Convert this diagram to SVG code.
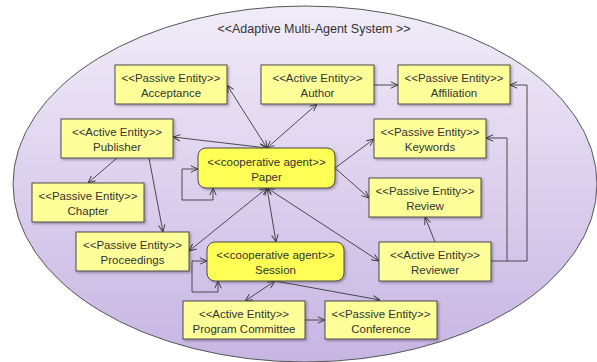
<svg xmlns="http://www.w3.org/2000/svg" width="597" height="362" viewBox="0 0 597 362">
<defs>
<linearGradient id="bg" x1="0" y1="0" x2="0" y2="1">
<stop offset="0" stop-color="#f1ecf8"/>
<stop offset="1" stop-color="#c7b5e3"/>
</linearGradient>
<filter id="sh" x="-10%" y="-10%" width="130%" height="140%">
<feDropShadow dx="1.5" dy="1.5" stdDeviation="1" flood-color="#000" flood-opacity="0.3"/>
</filter>
<marker id="ar" viewBox="0 0 10 10" refX="10" refY="5" markerWidth="8" markerHeight="8" markerUnits="userSpaceOnUse" orient="auto-start-reverse">
<path d="M1,1 L10,5 L1,9" fill="none" stroke="#3a3a3a" stroke-width="1.2"/>
</marker>
<style>
.box{fill:#ffff99;stroke:#4a4a4a;stroke-width:1;filter:url(#sh)}
.agent{fill:#ffff55;stroke:#4a4a4a;stroke-width:1;filter:url(#sh)}
text{font-family:"Liberation Sans",Arial,sans-serif;font-size:11.5px;fill:#333;text-anchor:middle}
.c{fill:none;stroke:#3a3a3a;stroke-width:0.9;marker-end:url(#ar)}
.b{marker-start:url(#ar)}
</style>
</defs>
<ellipse cx="305" cy="184" rx="292" ry="178" fill="url(#bg)" stroke="#555" stroke-width="1"/>
<text x="314" y="33" style="font-size:12.5px">&lt;&lt;Adaptive Multi-Agent System &gt;&gt;</text>

<g id="connectors">
<path class="c b" d="M267,148 L227,85"/>
<path class="c b" d="M267,148 L317,104"/>
<path class="c b" d="M267,148 L173,137"/>
<path class="c" d="M374,85 L398,85"/>
<path class="c" d="M335,168 L374,139"/>
<path class="c" d="M335,168 L369,198"/>
<path class="c b" d="M213,188 L213,200 L182,200 L182,169 L198,169"/>
<path class="c b" d="M267,188 L189,251"/>
<path class="c b" d="M267,188 L276,242"/>
<path class="c b" d="M267,188 L379,261"/>
<path class="c" d="M117,158 L88,183"/>
<path class="c" d="M149,158 L163,232"/>
<path class="c b" d="M218,281 L218,292 L192,292 L192,261 L207,261"/>
<path class="c" d="M435,242 L425,217"/>
<path class="c" d="M491,261 L507,261 L507,138 L486,138"/>
<path class="c" d="M507,261 L527,261 L527,85 L510,85"/>
<path class="c b" d="M275,281 L245,301"/>
<path class="c" d="M275,281 L380,300"/>
<path class="c" d="M305,320 L325,320"/>
</g>

<g id="acceptance"><rect class="box" x="115" y="65" width="112" height="39"/><text x="171" y="82">&lt;&lt;Passive Entity&gt;&gt;</text><text x="171" y="97">Acceptance</text></g>
<g id="author"><rect class="box" x="261" y="65" width="113" height="39"/><text x="317.5" y="82">&lt;&lt;Active Entity&gt;&gt;</text><text x="317.5" y="97">Author</text></g>
<g id="affiliation"><rect class="box" x="398" y="65" width="112" height="39"/><text x="454" y="82">&lt;&lt;Passive Entity&gt;&gt;</text><text x="454" y="97">Affiliation</text></g>
<g id="publisher"><rect class="box" x="61" y="119" width="112" height="39"/><text x="117" y="136">&lt;&lt;Active Entity&gt;&gt;</text><text x="117" y="151">Publisher</text></g>
<g id="keywords"><rect class="box" x="374" y="119" width="112" height="39"/><text x="430" y="136">&lt;&lt;Passive Entity&gt;&gt;</text><text x="430" y="151">Keywords</text></g>
<g id="paper"><rect class="agent" x="198" y="148" width="137" height="40" rx="8"/><text x="266.5" y="166">&lt;&lt;cooperative agent&gt;&gt;</text><text x="266.5" y="181">Paper</text></g>
<g id="chapter"><rect class="box" x="32" y="183" width="112" height="39"/><text x="88" y="200">&lt;&lt;Passive Entity&gt;&gt;</text><text x="88" y="215">Chapter</text></g>
<g id="review"><rect class="box" x="369" y="178" width="112" height="39"/><text x="425" y="195">&lt;&lt;Passive Entity&gt;&gt;</text><text x="425" y="210">Review</text></g>
<g id="proceedings"><rect class="box" x="76" y="232" width="113" height="39"/><text x="132.5" y="249">&lt;&lt;Passive Entity&gt;&gt;</text><text x="132.5" y="264">Proceedings</text></g>
<g id="session"><rect class="agent" x="207" y="242" width="137" height="39" rx="8"/><text x="275.5" y="259">&lt;&lt;cooperative agent&gt;&gt;</text><text x="275.5" y="274">Session</text></g>
<g id="reviewer"><rect class="box" x="379" y="242" width="112" height="39"/><text x="435" y="259">&lt;&lt;Active Entity&gt;&gt;</text><text x="435" y="274">Reviewer</text></g>
<g id="program-committee"><rect class="box" x="183" y="301" width="122" height="38"/><text x="244" y="318">&lt;&lt;Active Entity&gt;&gt;</text><text x="244" y="333">Program Committee</text></g>
<g id="conference"><rect class="box" x="325" y="301" width="112" height="38"/><text x="381" y="318">&lt;&lt;Passive Entity&gt;&gt;</text><text x="381" y="333">Conference</text></g>
</svg>
